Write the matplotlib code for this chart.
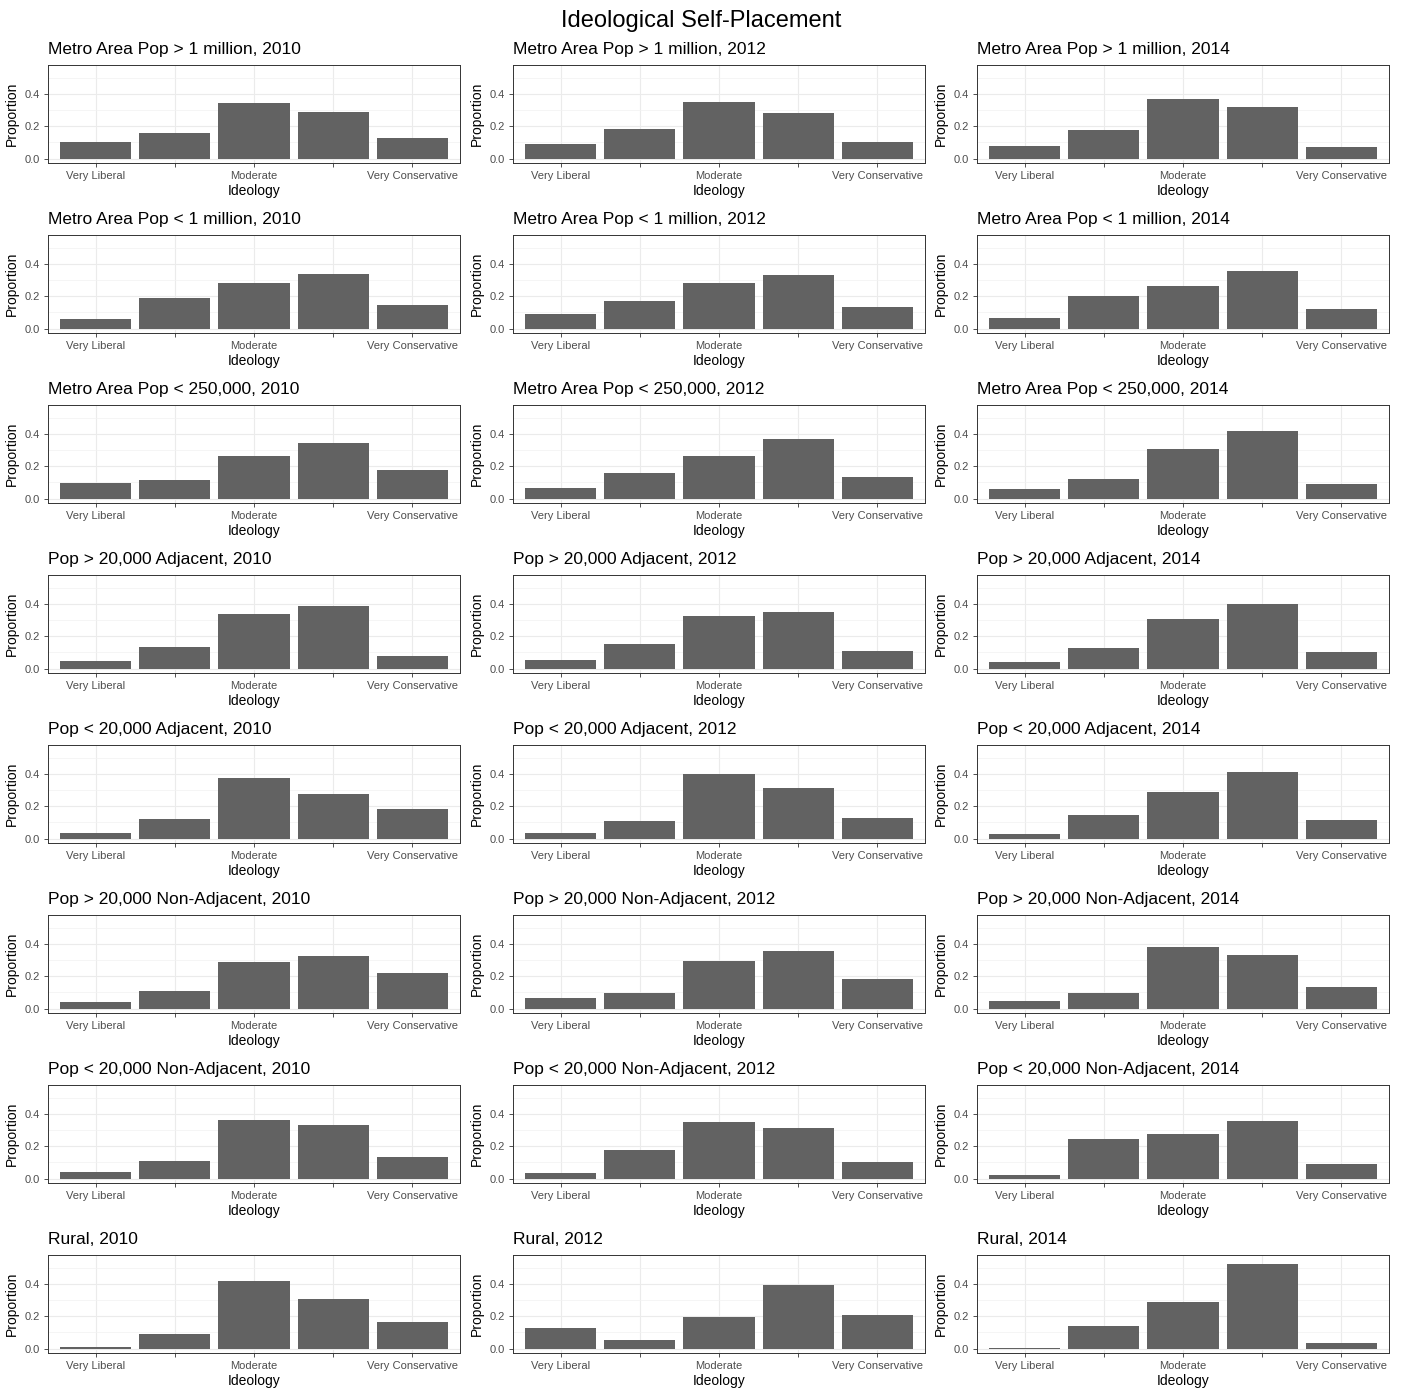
import matplotlib

matplotlib.use("Agg")
import matplotlib.pyplot as plt

plt.rcParams["font.family"] = ["Liberation Sans", "DejaVu Sans"]

categories = ["Very Liberal", "Liberal", "Moderate", "Conservative", "Very Conservative"]
shown_labels = ["Very Liberal", "", "Moderate", "", "Very Conservative"]
years = ["2010", "2012", "2014"]
areas = [
    "Metro Area Pop > 1 million",
    "Metro Area Pop < 1 million",
    "Metro Area Pop < 250,000",
    "Pop > 20,000 Adjacent",
    "Pop < 20,000 Adjacent",
    "Pop > 20,000 Non-Adjacent",
    "Pop < 20,000 Non-Adjacent",
    "Rural",
]

# proportions per area, one list per year (2010, 2012, 2014)
metro_big = [
    [0.100, 0.155, 0.340, 0.285, 0.125],
    [0.090, 0.185, 0.350, 0.282, 0.102],
    [0.078, 0.175, 0.365, 0.318, 0.074],
]
metro_mid = [
    [0.060, 0.186, 0.280, 0.335, 0.143],
    [0.090, 0.171, 0.280, 0.330, 0.133],
    [0.067, 0.198, 0.265, 0.353, 0.120],
]
metro_small = [
    [0.094, 0.114, 0.261, 0.341, 0.178],
    [0.065, 0.159, 0.265, 0.370, 0.131],
    [0.059, 0.118, 0.308, 0.418, 0.088],
]
big_adj = [
    [0.047, 0.135, 0.339, 0.384, 0.078],
    [0.055, 0.149, 0.327, 0.351, 0.110],
    [0.043, 0.124, 0.306, 0.400, 0.100],
]
small_adj = [
    [0.035, 0.118, 0.375, 0.273, 0.180],
    [0.035, 0.106, 0.400, 0.315, 0.124],
    [0.025, 0.146, 0.290, 0.410, 0.116],
]
big_nonadj = [
    [0.041, 0.107, 0.289, 0.322, 0.221],
    [0.066, 0.095, 0.295, 0.353, 0.181],
    [0.045, 0.099, 0.377, 0.332, 0.132],
]
small_nonadj = [
    [0.041, 0.109, 0.359, 0.330, 0.136],
    [0.035, 0.175, 0.351, 0.314, 0.101],
    [0.019, 0.245, 0.276, 0.355, 0.089],
]
rural = [
    [0.012, 0.090, 0.414, 0.304, 0.162],
    [0.129, 0.053, 0.197, 0.390, 0.205],
    [0.005, 0.140, 0.290, 0.520, 0.035],
]
all_values = [metro_big, metro_mid, metro_small, big_adj, small_adj,
              big_nonadj, small_nonadj, rural]

W, H = 1402, 1392
fig = plt.figure(figsize=(W / 100, H / 100), dpi=100)
fig.text(0.5, 1 - 21 / H, "Ideological Self-Placement", ha="center", va="center",
         fontsize=17, color="black")

col_left = [48, 513, 977]
panel_w, panel_h = 412, 98
row_top0, row_step = 65, 170
x = list(range(1, len(categories) + 1))

for r, (area, vals) in enumerate(zip(areas, all_values)):
    for c, (year, v) in enumerate(zip(years, vals)):
        top = row_top0 + r * row_step
        ax = fig.add_axes([col_left[c] / W, 1 - (top + panel_h) / H,
                           panel_w / W, panel_h / H])
        ax.bar(x, v, width=0.9, color="#626262", zorder=3)
        ax.set_xlim(0.4, 5.6)
        ax.set_ylim(-0.0275, 0.5775)
        ax.set_xticks(x)
        ax.set_xticklabels(shown_labels, fontsize=8, color="#4d4d4d")
        ax.set_yticks([0.0, 0.2, 0.4])
        ax.set_yticklabels(["0.0", "0.2", "0.4"], fontsize=8, color="#4d4d4d")
        ax.set_yticks([0.1, 0.3, 0.5], minor=True)
        ax.grid(which="major", color="#ebebeb", lw=0.8, zorder=0)
        ax.grid(which="minor", axis="y", color="#f2f2f2", lw=0.5, zorder=0)
        ax.tick_params(which="major", length=3, width=0.6, color="#333333", pad=3)
        ax.tick_params(which="minor", length=0)
        for s in ax.spines.values():
            s.set_color("#333333")
            s.set_linewidth(0.7)
        ax.set_xlabel("Ideology", fontsize=10, labelpad=2)
        ax.set_ylabel("Proportion", fontsize=10, labelpad=4)
        ax.set_title(f"{area}, {year}", loc="left", fontsize=12.5, pad=8)

fig.savefig("out.png", dpi=100, facecolor="white")
